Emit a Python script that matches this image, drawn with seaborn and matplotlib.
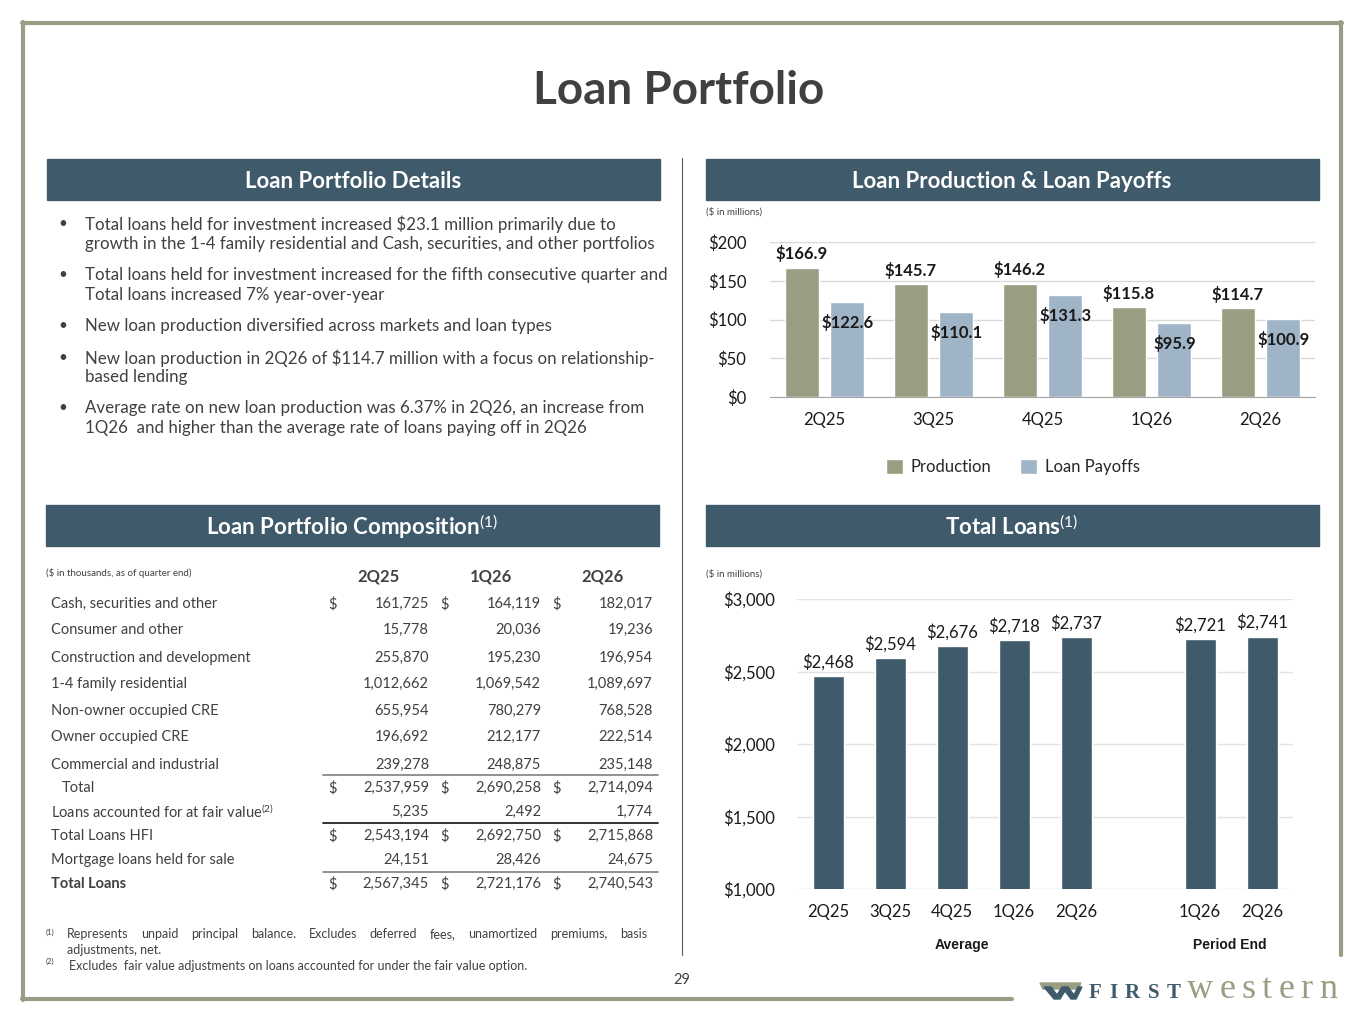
import numpy as np
import pandas as pd
import seaborn as sns
import matplotlib.pyplot as plt
from matplotlib.patches import Rectangle, Polygon

W, H = 1365, 1024

# ---- datos ----
trimestres = ['2Q25', '3Q25', '4Q25', '1Q26', '2Q26']
produccion = [166.9, 145.7, 146.2, 115.8, 114.7]
pagos = [122.6, 110.1, 131.3, 95.9, 100.9]

prom_trim = ['2Q25', '3Q25', '4Q25', '1Q26', '2Q26']
prom_total = [2468, 2594, 2676, 2718, 2737]
fin_trim = ['1Q26', '2Q26']
fin_total = [2721, 2741]

tabla_cols = ['2Q25', '1Q26', '2Q26']
tabla_filas = ['Cash, securities and other', 'Consumer and other',
               'Construction and development', '1-4 family residential',
               'Non-owner occupied CRE', 'Owner occupied CRE',
               'Commercial and industrial', 'Total',
               r'Loans accounted for at fair value$^{\mathrm{(2)}}$',
               'Total Loans HFI', 'Mortgage loans held for sale', 'Total Loans']
col_2q25 = [161725, 15778, 255870, 1012662, 655954, 196692, 239278, 2537959, 5235, 2543194, 24151, 2567345]
col_1q26 = [164119, 20036, 195230, 1069542, 780279, 212177, 248875, 2690258, 2492, 2692750, 28426, 2721176]
col_2q26 = [182017, 19236, 196954, 1089697, 768528, 222514, 235148, 2714094, 1774, 2715868, 24675, 2740543]
con_dolar = [True, False, False, False, False, False, False, True, False, True, False, True]

bullets = [
    ['Total loans held for investment increased $23.1 million primarily due to',
     'growth in the 1-4 family residential and Cash, securities, and other portfolios'],
    ['Total loans held for investment increased for the fifth consecutive quarter and',
     'Total loans increased 7% year-over-year'],
    ['New loan production diversified across markets and loan types'],
    ['New loan production in 2Q26 of $114.7 million with a focus on relationship-',
     'based lending'],
    ['Average rate on new loan production was 6.37% in 2Q26, an increase from',
     '1Q26  and higher than the average rate of loans paying off in 2Q26'],
]

# ---- estilo ----
sns.set_style('white')
plt.rcParams['font.family'] = ['Lato', 'DejaVu Sans']
plt.rcParams['mathtext.fontset'] = 'custom'
plt.rcParams['mathtext.rm'] = 'Lato'
plt.rcParams['mathtext.it'] = 'Lato:italic'
plt.rcParams['mathtext.bf'] = 'Lato:bold'

AZUL_OSC = '#3e5a6b'
OLIVA = '#999e83'
AZUL_CLARO = '#9fb4c6'
GRIS_TXT = '#404040'
BORDE = '#9a9c86'

fig = plt.figure(figsize=(W / 100, H / 100), dpi=100)
renderer = fig.canvas.get_renderer()


def rect(l, t, r, b):
    return [l / W, 1 - b / H, (r - l) / W, (b - t) / H]


def texto_espaciado(ax, x, y, txt, extra, **kw):
    # escribe letra por letra con espacio extra (para el logo)
    for c in txt:
        t = ax.text(x, y, c, ha='left', va='baseline', **kw)
        x += t.get_window_extent(renderer).width + extra


# fondo en pixeles
bg = fig.add_axes([0, 0, 1, 1])
bg.set_xlim(0, W)
bg.set_ylim(H, 0)
bg.axis('off')

# marco
bg.plot([22, 1342], [23, 23], color=BORDE, lw=3)
bg.plot([23, 23], [22, 1000], color=BORDE, lw=3)
bg.plot([1341, 1341], [22, 955], color=BORDE, lw=3)
bg.plot([22, 1012], [999, 999], color=BORDE, lw=3)
bg.plot([682, 682], [158, 955], color='#595959', lw=0.8)

bg.text(679, 91, 'Loan Portfolio', ha='center', va='center', fontsize=33,
        fontweight='bold', color=GRIS_TXT)

# encabezados
encabezados = [(47, 159, 'Loan Portfolio Details'),
               (706, 159, 'Loan Production & Loan Payoffs'),
               (46, 505, r'Loan Portfolio Composition$^{\mathrm{(1)}}$'),
               (706, 505, r'Total Loans$^{\mathrm{(1)}}$')]
for x0, y0, txt in encabezados:
    bg.add_patch(Rectangle((x0, y0), 613, 41, color=AZUL_OSC))
    bg.text(x0 + 306, y0 + 22, txt, ha='center', va='center', fontsize=16,
            fontweight='bold', color='white')

# bullets
y_lineas = [[224, 244], [275, 295], [326], [358, 377], [408, 428]]
for lineas, ys in zip(bullets, y_lineas):
    bg.text(63, ys[0], '\u2022', ha='center', va='center', fontsize=11, color=GRIS_TXT)
    for linea, yy in zip(lineas, ys):
        bg.text(85, yy, linea, ha='left', va='center', fontsize=12.2, color=GRIS_TXT)

# tabla
bg.text(46, 573, '($ in thousands, as of quarter end)', ha='left', va='center',
        fontsize=7, color=GRIS_TXT)
x_dolar = [333, 445, 557]
x_valor = [429, 541, 653]
for col, xc in zip(tabla_cols, [379, 491, 603]):
    bg.text(xc, 576, col, ha='center', va='center', fontsize=12, fontweight='bold',
            color=GRIS_TXT)
y_filas = [604, 630, 658, 684, 711, 737, 765, 788, 812, 836, 860, 884]
for i, fila in enumerate(tabla_filas):
    yy = y_filas[i]
    xl = 62 if fila == 'Total' else 51
    peso = 'bold' if fila == 'Total Loans' else 'normal'
    bg.text(xl, yy, fila, ha='left', va='center', fontsize=10.5, color=GRIS_TXT,
            fontweight=peso)
    for j, col in enumerate([col_2q25, col_1q26, col_2q26]):
        if con_dolar[i]:
            bg.text(x_dolar[j], yy, '$', ha='center', va='center', fontsize=10.5,
                    color=GRIS_TXT)
        bg.text(x_valor[j], yy, f'{col[i]:,}', ha='right', va='center', fontsize=10.5,
                color=GRIS_TXT)
bg.plot([323, 658], [775, 775], color='#7f7f7f', lw=1.2)
bg.plot([323, 658], [823, 823], color='#222222', lw=1.3)
bg.plot([323, 658], [872, 872], color='#7f7f7f', lw=1.2)

# notas al pie (primera linea justificada)
bg.text(46, 932, '(1)', ha='left', va='center', fontsize=5.5, color=GRIS_TXT)
bg.text(46, 961, '(2)', ha='left', va='center', fontsize=5.5, color=GRIS_TXT)
palabras = 'Represents unpaid principal balance. Excludes deferred fees, unamortized premiums, basis'.split()
objs = [bg.text(0, 938, p, ha='left', va='baseline', fontsize=9, color=GRIS_TXT) for p in palabras]
anchos = [o.get_window_extent(renderer).width for o in objs]
hueco = (647 - 67 - sum(anchos)) / (len(palabras) - 1)
xx = 67
for o, a in zip(objs, anchos):
    o.set_x(round(xx))
    xx += a + hueco
bg.text(67, 954, 'adjustments, net.', ha='left', va='baseline', fontsize=9, color=GRIS_TXT)
bg.text(69, 970, 'Excludes  fair value adjustments on loans accounted for under the fair value option.',
        ha='left', va='baseline', fontsize=9, color=GRIS_TXT)
bg.text(682, 980, '29', ha='center', va='center', fontsize=10.5, color=GRIS_TXT)

# logo
bg.add_patch(Polygon([[1040, 983], [1081, 983], [1078, 989], [1043, 989]], color=OLIVA))
bg.add_patch(Polygon([[1044, 987], [1051, 987], [1057, 995], [1062, 987], [1068, 987],
                      [1074, 995], [1078, 987], [1082, 987], [1076, 999], [1071, 999],
                      [1065, 991], [1060, 999], [1054, 999]], color=AZUL_OSC))
texto_espaciado(bg, 1089, 998, 'FIRST', 7.5, fontsize=15, fontweight='bold',
                color=AZUL_OSC, family='Liberation Serif')
texto_espaciado(bg, 1187, 998, 'western', 6.3, fontsize=26,
                color=OLIVA, family='Liberation Serif')

# ---- grafica produccion vs pagos ----
df_prod = pd.DataFrame({
    'trimestre': trimestres * 2,
    'valor': produccion + pagos,
    'serie': ['Production'] * len(trimestres) + ['Loan Payoffs'] * len(trimestres),
})
ax1 = fig.add_axes(rect(770, 242, 1315, 397))
sns.barplot(data=df_prod, x='trimestre', y='valor', hue='serie', order=trimestres,
            palette=[OLIVA, AZUL_CLARO], saturation=1, width=0.84, gap=0.26, ax=ax1)
ax1.set_ylim(0, 200)
ax1.set_xlim(-0.5, 4.5)
ax1.set_yticks([0, 50, 100, 150, 200])
ax1.set_yticklabels([f'${v}' for v in [0, 50, 100, 150, 200]])
ax1.yaxis.grid(True, color='#d9d9d9', lw=1)
ax1.set_axisbelow(True)
for s in ['top', 'right', 'left']:
    ax1.spines[s].set_visible(False)
ax1.spines['bottom'].set_color('#a6a6a6')
ax1.tick_params(axis='y', length=0, pad=17, labelsize=12, labelcolor='#1a1a1a')
ax1.tick_params(axis='x', length=0, pad=11, labelsize=12, labelcolor='#1a1a1a')
ax1.set_xlabel('')
ax1.set_ylabel('')
ax1.bar_label(ax1.containers[0], fmt=lambda v: f'${v:.1f}', padding=4, fontsize=12,
              fontweight='bold', color='#1a1a1a')
ax1.bar_label(ax1.containers[1], fmt=lambda v: f'${v:.1f}', padding=-21, fontsize=12,
              fontweight='bold', color='#1a1a1a')
handles, labels = ax1.get_legend_handles_labels()
ax1.get_legend().remove()
fig.legend(handles, labels, loc='center', bbox_to_anchor=(1013 / W, 1 - 467 / H),
           bbox_transform=fig.transFigure, ncol=2, frameon=False, fontsize=12,
           handlelength=1.0, handleheight=1.0, columnspacing=1.7, handletextpad=0.5)
bg.text(706, 212, '($ in millions)', ha='left', va='center', fontsize=7, color=GRIS_TXT)

# ---- grafica total de prestamos ----
claves_prom = [f'prom {q}' for q in prom_trim]
claves_fin = [f'fin {q}' for q in fin_trim]
orden = claves_prom + ['hueco'] + claves_fin
df_tot = pd.DataFrame({'clave': claves_prom + claves_fin, 'valor': prom_total + fin_total})
ax2 = fig.add_axes(rect(797, 599, 1293, 889))
sns.barplot(data=df_tot, x='clave', y='valor', order=orden, color=AZUL_OSC,
            saturation=1, width=0.5, ax=ax2)
ax2.set_ylim(1000, 3000)
ax2.set_xlim(-0.5, 7.5)
ax2.set_yticks([1000, 1500, 2000, 2500, 3000])
ax2.set_yticklabels([f'${v:,}' for v in [1000, 1500, 2000, 2500, 3000]])
ax2.set_xticks(range(len(orden)))
ax2.set_xticklabels(prom_trim + [''] + fin_trim)
ax2.yaxis.grid(True, color='#e3e3e3', lw=1)
ax2.set_axisbelow(True)
for s in ['top', 'right', 'left', 'bottom']:
    ax2.spines[s].set_visible(False)
ax2.tick_params(axis='y', length=0, pad=16, labelsize=12, labelcolor='#1a1a1a')
ax2.tick_params(axis='x', length=0, pad=11, labelsize=12, labelcolor='#1a1a1a')
ax2.set_xlabel('')
ax2.set_ylabel('')
ax2.bar_label(ax2.containers[0],
              fmt=lambda v: '' if np.isnan(v) else f'${v:,.0f}',
              padding=4, fontsize=12, color='#1a1a1a')
bg.text(706, 574, '($ in millions)', ha='left', va='center', fontsize=7, color=GRIS_TXT)
bg.text(962, 945, 'Average', ha='center', va='center', fontsize=10, fontweight='bold',
        family='Liberation Sans', color='#1a1a1a')
bg.text(1230, 945, 'Period End', ha='center', va='center', fontsize=10, fontweight='bold',
        family='Liberation Sans', color='#1a1a1a')

fig.savefig('out.png', dpi=100)
